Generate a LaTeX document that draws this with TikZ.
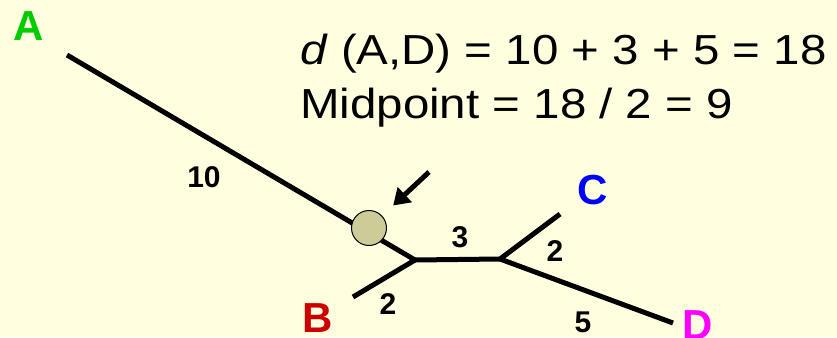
\documentclass[tikz,border=0pt]{standalone}
\usepackage{fontspec}
\setmainfont{Liberation Sans}
\newfontfamily\widesans[FakeStretch=1.13]{Liberation Sans}
\usetikzlibrary{arrows.meta}
\definecolor{paper}{RGB}{255,255,224}
\definecolor{leafA}{RGB}{0,204,0}
\definecolor{leafB}{RGB}{204,0,0}
\definecolor{leafC}{RGB}{0,0,255}
\definecolor{leafD}{RGB}{255,0,255}
\definecolor{olive}{RGB}{204,204,153}
\tikzset{
  branch/.style={line width=5pt},
  leaf/.style={font=\fontsize{42}{42}\selectfont\bfseries,inner sep=0pt,anchor=base},
  weight/.style={font=\fontsize{30}{30}\selectfont\bfseries,inner sep=0pt,anchor=base},
  formula/.style={font=\widesans\fontsize{42}{42}\selectfont,inner sep=0pt,anchor=base west},
  pointer/.style={line width=5pt,-{Triangle[length=16pt,width=20pt]}},
  midpt/.style={circle,draw,line width=1pt,fill=olive,minimum size=35pt,inner sep=0pt},
}
\begin{document}
\begin{tikzpicture}[x=1pt,y=-1pt]
  \useasboundingbox[fill=paper] (0,0) rectangle (837,337);
  % tree vertices
  \coordinate (a) at (67,55);
  \coordinate (b) at (353,297);
  \coordinate (c) at (560,214);
  \coordinate (d) at (673,323);
  \coordinate (u) at (415,260);
  \coordinate (v) at (500,259);
  \coordinate (ptr) at (429,172);
  % branches
  \draw[branch] (a) -- (u);
  \draw[branch] (b) -- (u);
  \draw[branch] (u) -- (v);
  \draw[branch] (v) -- (c);
  \draw[branch] (v) -- (d);
  \node[midpt] (mid) at (369,228) {};
  \draw[pointer,shorten >=15pt] (ptr) -- (mid);
  % leaves
  \node[leaf,text=leafA] (la) at (29,41) {A};
  \node[leaf,text=leafB] (lb) at (318,332) {B};
  \node[leaf,text=leafC] (lc) at (593,204) {C};
  \node[leaf,text=leafD] (ld) at (698,339) {D};
  % branch lengths
  \node[weight] (w10) at (204,187) {10};
  \node[weight] (w2b) at (388,314) {2};
  \node[weight] (w3) at (460,247) {3};
  \node[weight] (w2c) at (555,261) {2};
  \node[weight] (w5) at (583,332) {5};
  % text
  \node[formula] (dist) at (300,64) {\textit{d} (A,D) = 10 + 3 + 5 = 18};
  \node[formula] (half) at (300,118) {Midpoint = 18 / 2 = 9};
\end{tikzpicture}
\end{document}
